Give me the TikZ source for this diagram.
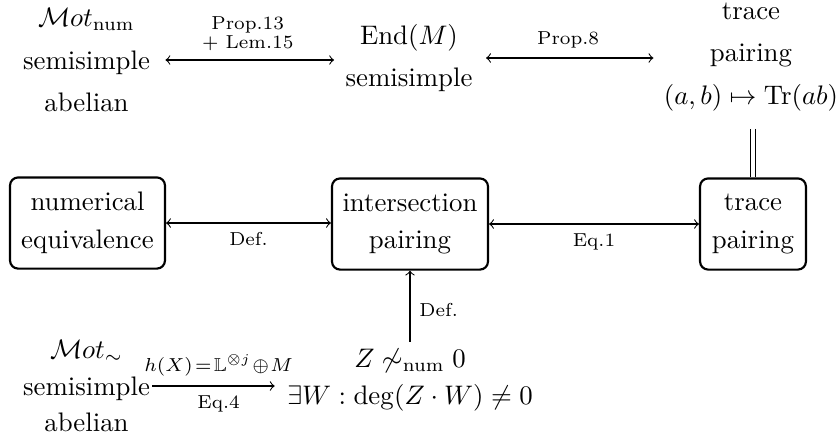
\documentclass[tikz,border=0pt]{standalone}
\usepackage{amsmath,amssymb}
\begin{document}
\begin{tikzpicture}[x=0.3731pt,y=-0.3731pt,
  txt/.style={align=center, inner sep=0pt},
  box/.style={draw, thick, rounded corners=3pt, align=center, inner sep=0pt, minimum height=34pt},
  lbl/.style={font=\scriptsize, align=center},
  arr/.style={->},
  biarr/.style={<->},
  eq/.style={double, double distance=1.5pt}]
\useasboundingbox (0,0) rectangle (840,439);
% top row
\node[txt] (A) at (86.5,60) {$\mathcal{M}ot_{\mathrm{num}}$\\[4pt] semisimple\\[4pt] abelian};
\node[txt] (B) at (409,58) {$\mathrm{End}(M)$\\[4pt] semisimple};
\node[txt] (C) at (751,57) {trace\\[4pt] pairing\\[4pt] $(a,b)\mapsto \mathrm{Tr}(ab)$};
% boxes
\node[box, minimum width=57.8pt] (N) at (87.5,223) {numerical\\[2pt] equivalence};
\node[box, minimum width=58.2pt] (I) at (410,224) {intersection\\[2pt] pairing};
\node[box, minimum width=39.5pt] (T) at (753,224) {trace\\[2pt] pairing};
% bottom row
\node[txt] (E) at (86.5,386) {$\mathcal{M}ot_{\sim}$\\[1.6pt] semisimple\\[1.6pt] abelian};
\node[txt] (D) at (410,380) {$Z \not\sim_{\mathrm{num}} 0$\\[1.6pt] $\exists W : \deg(Z\cdot W)\neq 0$};
% connectors
\draw[biarr, shorten <=5.6pt, shorten >=4.1pt] (A.east) -- (A.east -| B.west)
  node[lbl, midway, above] {Prop.13\\[-1pt] + Lem.15};
\draw[biarr, shorten <=4.9pt, shorten >=3.7pt] (B.east) -- (B.east -| C.west)
  node[lbl, midway, above] {Prop.8};
\draw[eq, shorten <=6.3pt] (C.south -| T.north) -- (T.north);
\draw[biarr] (N.east) -- (N.east -| I.west) node[lbl, midway, below] {Def.};
\draw[biarr] (I.east) -- (I.east -| T.west) node[lbl, midway, below] {Eq.1};
\draw[arr, shorten <=2.6pt] (D.north -| I.south) -- (I.south) node[lbl, midway, right] {Def.};
\draw[arr, shorten <=0.75pt, shorten >=4.5pt] (E.east) -- (E.east -| D.west)
  node[lbl, midway, above] {$h(X)\!=\!\mathbb{L}^{\otimes j}\!\oplus\! M$}
  node[lbl, midway, below] {Eq.4};
\end{tikzpicture}
\end{document}
